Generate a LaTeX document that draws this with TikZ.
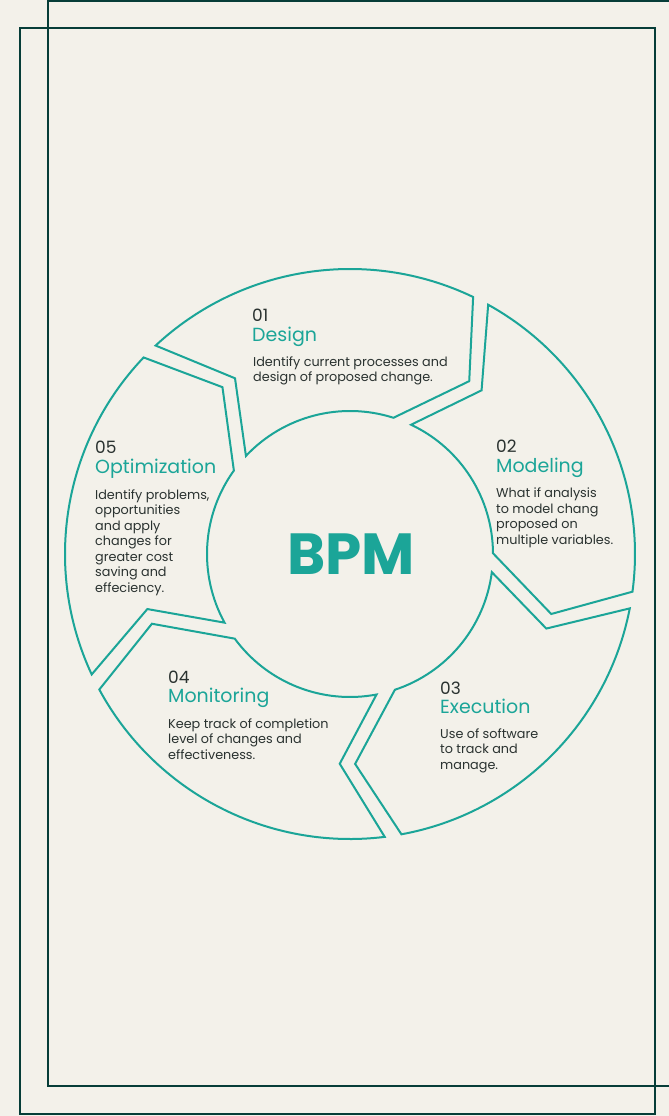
\documentclass[tikz,border=0pt]{standalone}
\usepackage{fontspec}
\setmainfont{Poppins}
\definecolor{bgcol}{HTML}{F3F1EA}
\definecolor{framecol}{HTML}{063D38}
\definecolor{tealcol}{HTML}{1BA598}
\definecolor{inkcol}{HTML}{2A3230}
\tikzset{
  frame/.style={draw=framecol,line width=2.8pt},
  seg/.style={draw=tealcol,line width=2pt,line join=miter},
  num/.style={anchor=base west,inner sep=0pt,text=inkcol,font=\fontsize{17}{17}\selectfont},
  ttl/.style={anchor=base west,inner sep=0pt,text=tealcol,font=\fontsize{19}{20}\selectfont},
  % base of a multi-line node = baseline of its last line
  txt/.style={anchor=base west,inner sep=0pt,text=inkcol,align=left,font=\fontsize{12.8}{15.5}\selectfont}
}
\begin{document}
\begin{tikzpicture}[x=1pt,y=1pt]
\fill[bgcol] (-350,-562) rectangle (319,554);
\useasboundingbox (-350,-562) rectangle (319,554);
\clip (-350,-562) rectangle (319,554);

% frames
\draw[frame] (-302,553) rectangle (345,-532);
\draw[frame] (-330,526) rectangle (305,-560);

% ring
\foreach \s in {0,...,4}{
  \pgfmathsetmacro\oa{134.7-72*\s-1.7}
  \pgfmathsetmacro\ob{62.7-72*\s+1.7}
  \pgfmathsetmacro\mb{53.3-72*\s+2.1}
  \pgfmathsetmacro\ib{68.5-72*\s+3.8}
  \pgfmathsetmacro\ia{140.5-72*\s-3.8}
  \pgfmathsetmacro\ma{125.3-72*\s-2.1}
  \draw[seg] (\oa:285pt) arc[start angle=\oa,end angle=\ob,radius=285pt]
    -- (\mb:210pt) -- (\ib:143pt) arc[start angle=\ib,end angle=\ia,radius=143pt]
    -- (\ma:210pt) -- cycle;
}

\node[text=tealcol,font=\bfseries\fontsize{58}{58}\selectfont,inner sep=0pt] (bpm) at (1,-0.5) {BPM};

% 01
\node[num] (n01) at (-98,232) {01};
\node[ttl] (t01) at (-98,212) {Design};
\node[txt] (d01) at (-97,172) {Identify current processes and\\design of proposed change.};
% 02
\node[num] (n02) at (146,101) {02};
\node[ttl] (t02) at (146,81) {Modeling};
\node[txt] (d02) at (146,9.5) {What if analysis\\to model chang\\proposed on\\multiple variables.};
% 03
\node[num] (n03) at (90,-140) {03};
\node[ttl] (t03) at (90,-159) {Execution};
\node[txt] (d03) at (90,-215) {Use of software\\to track and\\manage.};
% 04
\node[num] (n04) at (-182,-129) {04};
\node[ttl] (t04) at (-182,-148) {Monitoring};
\node[txt] (d04) at (-182,-205) {Keep track of completion\\level of changes and\\effectiveness.};
% 05
\node[num] (n05) at (-255,100) {05};
\node[ttl] (t05) at (-255,80) {Optimization};
\node[txt] (d05) at (-255,-38) {Identify problems,\\opportunities\\and apply\\changes for\\greater cost\\saving and\\effeciency.};
\end{tikzpicture}
\end{document}
